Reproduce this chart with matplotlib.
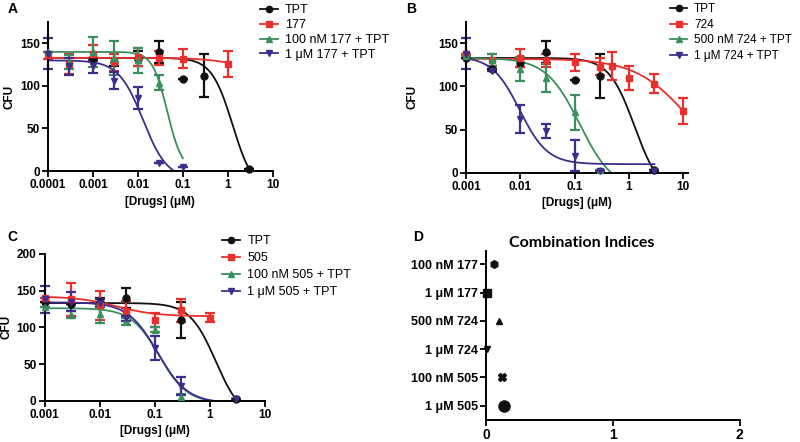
import numpy as np
import matplotlib
matplotlib.use("Agg")
import matplotlib.pyplot as plt

plt.rcParams['font.family'] = ['Liberation Sans', 'DejaVu Sans']

BLACK = '#111111'
RED = '#e8302c'
GREEN = '#3a8f5c'
PURPLE = '#3f2d8c'

# ---- panel A : 177 ----
a_tpt_x = [0.001, 0.003, 0.01, 0.03, 0.1, 0.3, 3]
a_tpt_y = [133, 128, 132, 140, 108, 112, 3]
a_tpt_e = [0, 5, 9, 13, 0, 25, 0]
a_drug_x = [0.0001, 0.0003, 0.001, 0.003, 0.01, 0.03, 0.1, 1]
a_drug_y = [136, 126, 138, 128, 134, 133, 132, 126]
a_drug_e = [4, 12, 10, 10, 10, 8, 11, 15]
a_low_x = [0.0001, 0.0003, 0.001, 0.003, 0.01, 0.03]
a_low_y = [140, 128, 140, 133, 130, 104]
a_low_e = [0, 8, 18, 20, 15, 9]
a_high_x = [0.0001, 0.0003, 0.001, 0.003, 0.01, 0.03, 0.1]
a_high_y = [138, 123, 123, 106, 86, 10, 5]
a_high_e = [18, 10, 8, 10, 13, 0, 0]
a_labels = ['TPT', '177', '100 nM 177 + TPT', '1 \u03bcM 177 + TPT']

# ---- panel B : 724 ----
b_tpt_x = [0.001, 0.003, 0.01, 0.03, 0.1, 0.3, 3]
b_tpt_y = [133, 120, 127, 140, 108, 112, 3]
b_tpt_e = [0, 0, 5, 13, 0, 25, 0]
b_drug_x = [0.001, 0.003, 0.01, 0.03, 0.1, 0.3, 0.5, 1, 3, 10]
b_drug_y = [138, 131, 133, 130, 128, 123, 124, 110, 103, 72]
b_drug_e = [0, 7, 10, 8, 10, 10, 16, 14, 11, 15]
b_low_x = [0.001, 0.003, 0.01, 0.03, 0.1, 0.3]
b_low_y = [135, 131, 120, 110, 70, 3]
b_low_e = [0, 7, 14, 16, 20, 0]
b_high_x = [0.001, 0.003, 0.01, 0.03, 0.1, 0.3, 3]
b_high_y = [138, 118, 62, 48, 20, 2, 2]
b_high_e = [18, 0, 16, 8, 18, 0, 0]
b_labels = ['TPT', '724', '500 nM 724 + TPT', '1 \u03bcM 724 + TPT']

# ---- panel C : 505 ----
c_tpt_x = [0.001, 0.003, 0.01, 0.03, 0.3, 3]
c_tpt_y = [135, 131, 135, 140, 110, 3]
c_tpt_e = [0, 0, 5, 14, 25, 0]
c_drug_x = [0.001, 0.003, 0.01, 0.03, 0.1, 0.3, 1]
c_drug_y = [140, 138, 130, 122, 110, 123, 113]
c_drug_e = [0, 22, 20, 14, 9, 16, 6]
c_low_x = [0.001, 0.003, 0.01, 0.03, 0.1, 0.3]
c_low_y = [127, 117, 118, 108, 97, 5]
c_low_e = [0, 5, 12, 5, 4, 5]
c_high_x = [0.001, 0.003, 0.01, 0.03, 0.1, 0.3, 3]
c_high_y = [138, 135, 133, 112, 72, 20, 2]
c_high_e = [18, 13, 6, 4, 16, 12, 0]
c_labels = ['TPT', '505', '100 nM 505 + TPT', '1 \u03bcM 505 + TPT']

# fitted curve parameters (top, bottom, IC50, hill, x start, x end)
a_fits = [(133, -25, 1.28, 1.85, 0.0001, 3), (133, 110, 3, 1.0, 0.0001, 1),
          (140, 0, 0.045, 2.64, 0.0001, 0.1), (130, -10, 0.013, 1.6, 0.0001, 0.1)]
b_fits = [(133, -25, 1.28, 1.85, 0.001, 3), (132, 0, 12.3, 0.9, 0.001, 10),
          (133, -20, 0.124, 1.4, 0.001, 0.5), (135, 10, 0.0097, 1.7, 0.001, 3)]
c_fits = [(133, -25, 1.28, 1.85, 0.001, 3), (142, 115, 0.02, 1.2, 0.001, 1),
          (126, -3, 0.12, 1.7, 0.001, 3), (134, -3, 0.113, 1.6, 0.001, 3)]

# ---- panel D : combination indices ----
ci_labels = ['100 nM 177', '1 \u03bcM 177', '500 nM 724', '1 \u03bcM 724', '100 nM 505', '1 \u03bcM 505']
ci_values = [0.06, 0.01, 0.1, 0.005, 0.13, 0.14]
ci_markers = ['h', 's', '^', 'v', 'X', 'o']
ci_sizes = [5.5, 5.5, 4.5, 4.5, 5.5, 8]

colors = [BLACK, RED, GREEN, PURPLE]
markers = ['o', 's', '^', 'v']


def logistic(x, top, bottom, ic50, hill):
    return bottom + (top - bottom) / (1 + (x / ic50) ** hill)


def style_axes(ax, size=8.5):
    for s in ['top', 'right']:
        ax.spines[s].set_visible(False)
    for s in ['left', 'bottom']:
        ax.spines[s].set_linewidth(1.4)
    ax.tick_params(direction='out', length=4, width=1.3, labelsize=size, pad=2)
    ax.tick_params(which='minor', length=0)
    for t in ax.get_xticklabels() + ax.get_yticklabels():
        t.set_fontweight('bold')


def dose_panel(ax, series, fits, labels, xlim, xticks, xticklabels, ylim, yticks, ypad=3):
    handles = []
    for (x, y, e), fit, c, m, lab in zip(series, fits, colors, markers, labels):
        top, bot, ic, h, x0, x1 = fit
        xx = np.logspace(np.log10(x0), np.log10(x1), 300)
        ax.plot(xx, logistic(xx, top, bot, ic, h), color=c, lw=1.3)
        ax.errorbar(x, y, yerr=e, fmt='none', ecolor=c, elinewidth=1.6,
                    capsize=3.5, capthick=1.6, clip_on=False)
        ax.plot(x, y, m, color=c, ms=5, clip_on=False, zorder=4)
        h_, = ax.plot([], [], marker=m, color=c, ms=4.5, lw=1.3, label=lab)
        handles.append(h_)
    ax.set_xscale('log')
    ax.set_xlim(*xlim)
    ax.set_ylim(*ylim)
    ax.set_xticks(xticks)
    ax.set_xticklabels(xticklabels)
    ax.set_yticks(yticks)
    ax.set_xlabel('[Drugs] (\u03bcM)', fontsize=8.5, fontweight='bold', labelpad=3)
    ax.set_ylabel('CFU', fontsize=8.5, fontweight='bold', labelpad=ypad)
    style_axes(ax)
    return handles


fig = plt.figure(figsize=(8, 4.42), dpi=100)
leg_kw = dict(loc='upper left', frameon=False, handlelength=1.4,
              handletextpad=0.6, borderpad=0, borderaxespad=0)

axA = fig.add_axes([0.06, 0.613, 0.281, 0.337])
hA = dose_panel(axA, [(a_tpt_x, a_tpt_y, a_tpt_e), (a_drug_x, a_drug_y, a_drug_e),
                      (a_low_x, a_low_y, a_low_e), (a_high_x, a_high_y, a_high_e)],
                a_fits, a_labels, (0.0001, 10),
                [0.0001, 0.001, 0.01, 0.1, 1, 10], ['0.0001', '0.001', '0.01', '0.1', '1', '10'],
                (0, 175), [0, 50, 100, 150])
fig.legend(handles=hA, bbox_to_anchor=(0.325, 0.99), labelspacing=0.22, fontsize=9, **leg_kw)

axB = fig.add_axes([0.583, 0.609, 0.277, 0.342])
hB = dose_panel(axB, [(b_tpt_x, b_tpt_y, b_tpt_e), (b_drug_x, b_drug_y, b_drug_e),
                      (b_low_x, b_low_y, b_low_e), (b_high_x, b_high_y, b_high_e)],
                b_fits, b_labels, (0.001, 12.5),
                [0.001, 0.01, 0.1, 1, 10], ['0.001', '0.01', '0.1', '1', '10'],
                (0, 175), [0, 50, 100, 150], ypad=14)
fig.legend(handles=hB, bbox_to_anchor=(0.838, 0.993), labelspacing=0.3, fontsize=8.5, **leg_kw)

axC = fig.add_axes([0.056, 0.093, 0.275, 0.333])
hC = dose_panel(axC, [(c_tpt_x, c_tpt_y, c_tpt_e), (c_drug_x, c_drug_y, c_drug_e),
                      (c_low_x, c_low_y, c_low_e), (c_high_x, c_high_y, c_high_e)],
                c_fits, c_labels, (0.001, 10),
                [0.001, 0.01, 0.1, 1, 10], ['0.001', '0.01', '0.1', '1', '10'],
                (0, 200), [0, 50, 100, 150, 200])
fig.legend(handles=hC, bbox_to_anchor=(0.278, 0.468), labelspacing=0.4, fontsize=9, **leg_kw)

axD = fig.add_axes([0.6075, 0.05, 0.317, 0.381])
ypos = np.arange(len(ci_labels))[::-1]
for v, yy, m, s in zip(ci_values, ypos, ci_markers, ci_sizes):
    axD.plot(v, yy, m, color=BLACK, ms=s, clip_on=False)
axD.set_xlim(0, 2)
axD.set_ylim(-0.5, 5.45)
axD.set_xticks([0, 1, 2])
axD.set_yticks(ypos)
axD.set_yticklabels(ci_labels)
style_axes(axD)
axD.tick_params(axis='y', labelsize=9)
axD.tick_params(axis='x', labelsize=10)
fig.text(582 / 800, 1 - 243 / 442, 'Combination Indices', fontsize=11.5, fontweight='bold',
         family=['Lato', 'DejaVu Sans'], ha='center', va='center')

for lab, x, y in [('A', 0.009, 0.995), ('B', 0.508, 0.995), ('C', 0.009, 0.48), ('D', 0.516, 0.48)]:
    fig.text(x, y, lab, fontsize=10, fontweight='bold', va='top')

fig.savefig('out.png', dpi=100)
